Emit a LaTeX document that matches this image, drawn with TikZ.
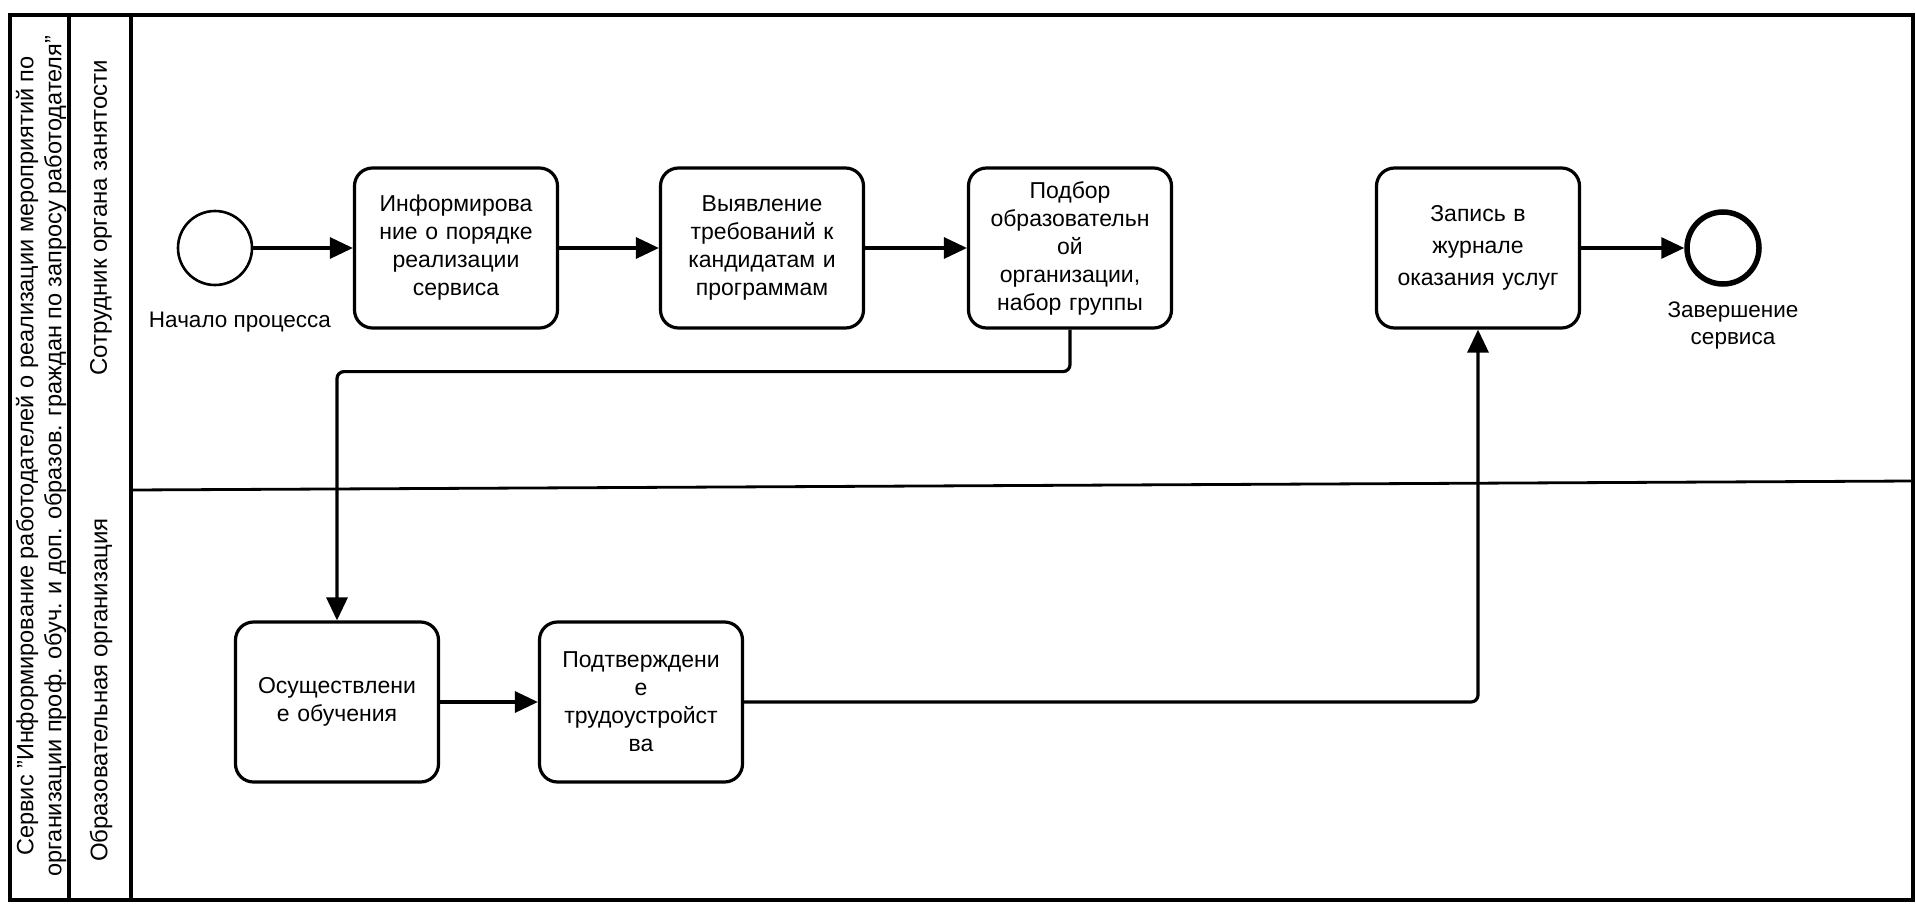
\documentclass[tikz,border=0pt]{standalone}
\usepackage{fontspec}
\setmainfont{Liberation Sans}
\usetikzlibrary{arrows.meta}
\begin{document}
\begin{tikzpicture}[x=1pt,y=-1pt,
  task/.style={draw, line width=3.2pt, rounded corners=18pt, minimum width=203pt, minimum height=160pt,
    text width=190pt, align=center, font=\fontsize{23}{28}\selectfont, inner sep=0pt},
  startev/.style={draw, circle, line width=2.6pt, minimum size=74pt, inner sep=0pt},
  endev/.style={draw, circle, line width=5.5pt, minimum size=72pt, inner sep=0pt},
  lbl/.style={font=\fontsize{22.5}{27}\selectfont, align=center, inner sep=0pt},
  lanelbl/.style={font=\fontsize{24}{26}\selectfont, align=center, inner sep=0pt, rotate=90},
  poollbl/.style={font=\fontsize{23.5}{28}\selectfont, align=center, inner sep=0pt, rotate=90},
  flow/.style={line width=3.2pt, -{Triangle[length=23pt,width=21pt]}, rounded corners=7pt},
  frame/.style={line width=3.6pt}]
\useasboundingbox (0,0) rectangle (1916,907);
% frame and lanes
\draw[frame] (10,15) rectangle (1913,900);
\draw[frame] (69,15) -- (69,900);
\draw[frame] (131,15) -- (131,900);
\draw[line width=2.8pt] (131,490) -- (1913,481);
% labels of pool and lanes
\node[poollbl] (pool) at (41,456) {Сервис "Информирование работодателей о реализации мероприятий по\\организации проф. обуч. и доп. образов. граждан по запросу работодателя"};
\node[lanelbl] (lane1) at (101,218) {Сотрудник органа занятости};
\node[lanelbl] (lane2) at (101,690) {Образовательная организация};
% events
\node[startev] (start) at (215,248) {};
\node[lbl, anchor=north] (startlbl) at (240,312) {Начало процесса};
\node[endev] (end) at (1723,248) {};
\node[lbl, anchor=north] (endlbl) at (1733,302) {Завершение\\сервиса};
% tasks
\node[task] (t1) at (456,248) {Информирова\\ние о порядке\\реализации\\сервиса};
\node[task] (t2) at (762,248) {Выявление\\требований к\\кандидатам и\\программам};
\node[task] (t3) at (1070,248) {Подбор\\образовательн\\ой\\организации,\\набор группы};
\node[task, font=\fontsize{23}{32}\selectfont] (t4) at (1478,248) {Запись в\\журнале\\оказания услуг};
\node[task] (t5) at (337,702) {Осуществлени\\е обучения};
\node[task] (t6) at (641,702) {Подтверждени\\е\\трудоустройст\\ва};
% flows
\draw[flow] (start) -- (t1);
\draw[flow] (t1) -- (t2);
\draw[flow] (t2) -- (t3);
\draw[flow] (t3.south) -- ++(0,42) -| (t5.north);
\draw[flow] (t5) -- (t6);
\draw[flow] (t6.east) -| (t4.south);
\draw[flow] (t4) -- (end);
\end{tikzpicture}
\end{document}
